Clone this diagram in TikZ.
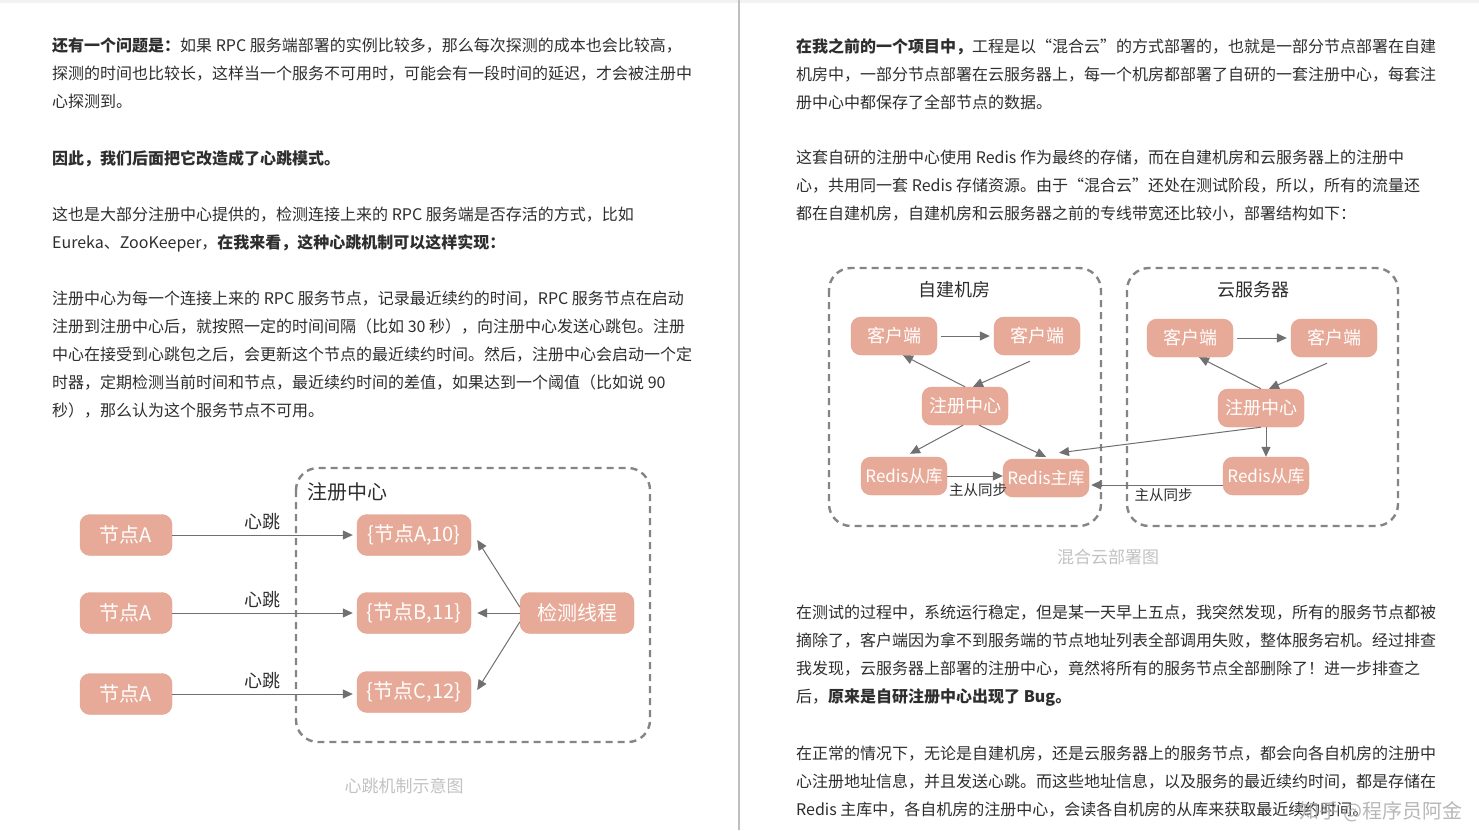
\documentclass[tikz,border=0pt]{standalone}
\usepackage{fontspec}
\setmainfont{Noto Sans CJK SC}
\usetikzlibrary{arrows.meta}

\definecolor{nodefill}{HTML}{E8AA98}
\definecolor{nodeedge}{HTML}{E2A08D}
\definecolor{linkgray}{HTML}{707070}
\definecolor{dashgray}{HTML}{858585}
\definecolor{bodytext}{HTML}{2E2E2E}
\definecolor{captiongray}{HTML}{C2C2C2}

\tikzset{
  para/.style={anchor=north west, align=left, inner sep=0pt, text=bodytext,
    font=\fontsize{16}{28}\selectfont},
  box/.style={rectangle, rounded corners=10pt, fill=nodefill, draw=nodeedge,
    text=white, minimum width=92pt, minimum height=41pt, inner sep=0pt,
    font=\fontsize{20}{20}\selectfont},
  smallbox/.style={box, minimum width=86pt, minimum height=38pt,
    font=\fontsize{18}{18}\selectfont},
  link/.style={draw=linkgray, line width=1pt,
    -{Triangle[length=10pt,width=9pt]}},
  group/.style={draw=dashgray, line width=2.4pt, dash pattern=on 7pt off 5pt,
    rounded corners=22pt},
  tag/.style={text=bodytext, inner sep=1pt, font=\fontsize{18}{18}\selectfont},
  synctag/.style={tag, font=\fontsize{14.5}{14.5}\selectfont},
  caption/.style={text=captiongray, font=\fontsize{17}{17}\selectfont},
}

\begin{document}
\begin{tikzpicture}[x=1pt,y=-1pt]
\useasboundingbox (0,0) rectangle (1479,830);
\fill[white] (0,0) rectangle (1479,830);
\fill[black!5] (0,0) rectangle (1479,3);
\draw[black!25, line width=1.5pt] (739,0) -- (739,830);

% left column
\node[para] (p1) at (52,38) {\textbf{还有一个问题是：}如果 RPC 服务端部署的实例比较多，那么每次探测的成本也会比较高，\\
探测的时间也比较长，这样当一个服务不可用时，可能会有一段时间的延迟，才会被注册中\\
心探测到。};
\node[para] (p2) at (52,150) {\textbf{因此，我们后面把它改造成了心跳模式。}};
\node[para] (p3) at (52,207) {这也是大部分注册中心提供的，检测连接上来的 RPC 服务端是否存活的方式，比如\\
Eureka、ZooKeeper，\textbf{在我来看，这种心跳机制可以这样实现：}};
\node[para] (p4) at (52,291) {注册中心为每一个连接上来的 RPC 服务节点，记录最近续约的时间，RPC 服务节点在启动\\
注册到注册中心后，就按照一定的时间间隔（比如 30 秒），向注册中心发送心跳包。注册\\
中心在接受到心跳包之后，会更新这个节点的最近续约时间。然后，注册中心会启动一个定\\
时器，定期检测当前时间和节点，最近续约时间的差值，如果达到一个阈值（比如说 90\\
秒），那么认为这个服务节点不可用。};

% heartbeat diagram
\draw[group] (296,468) rectangle (650,742);
\node[tag, font=\fontsize{20}{20}\selectfont] (regtitle) at (347,492) {注册中心};
\node[box] (nA) at (126,535) {节点A};
\node[box] (nB) at (126,613) {节点A};
\node[box] (nC) at (126,694) {节点A};
\node[box, minimum width=114pt] (rA) at (414,535) {\{节点A,10\}};
\node[box, minimum width=114pt] (rB) at (414,613) {\{节点B,11\}};
\node[box, minimum width=114pt] (rC) at (414,692) {\{节点C,12\}};
\node[box, minimum width=114pt] (check) at (577,613) {检测线程};
\draw[link] (nA) -- node[tag, above=4pt] {心跳} ([xshift=-4pt]rA.west);
\draw[link] (nB) -- node[tag, above=4pt] {心跳} ([xshift=-4pt]rB.west);
\draw[link] (nC.east) -- node[tag, above=4pt] {心跳} ([xshift=-4pt]rC.west |- nC.east);
\draw[link] ([yshift=6pt]check.west) -- ([xshift=6pt,yshift=-5pt]rA.east);
\draw[link] (check.west) -- ([xshift=6pt]rB.east);
\draw[link] ([yshift=-9pt]check.west) -- ([xshift=6pt,yshift=2pt]rC.east);
\node[caption] (cap1) at (404,786) {心跳机制示意图};

% right column
\node[para] (p5) at (796,38) {\textbf{在我之前的一个项目中，}工程是以“混合云”的方式部署的，也就是一部分节点部署在自建\\
机房中，一部分节点部署在云服务器上，每一个机房都部署了自研的一套注册中心，每套注\\
册中心中都保存了全部节点的数据。};
\node[para] (p6) at (796,150) {这套自研的注册中心使用 Redis 作为最终的存储，而在自建机房和云服务器上的注册中\\
心，共用同一套 Redis 存储资源。由于“混合云”还处在测试阶段，所以，所有的流量还\\
都在自建机房，自建机房和云服务器之前的专线带宽还比较小，部署结构如下：};

% hybrid cloud diagram
\draw[group] (829,268) rectangle (1101,526);
\draw[group] (1127,268) rectangle (1398,526);
\node[tag] (idc) at (954,290) {自建机房};
\node[tag] (cloud) at (1253,290) {云服务器};
\node[smallbox] (cL1) at (894,336) {客户端};
\node[smallbox] (cL2) at (1037,336) {客户端};
\node[smallbox] (regL) at (965,406) {注册中心};
\node[smallbox, font=\fontsize{17}{17}\selectfont] (slvL) at (904,476) {Redis从库};
\node[smallbox, font=\fontsize{17}{17}\selectfont] (mst) at (1046,478) {Redis主库};
\node[smallbox] (cR1) at (1190,338) {客户端};
\node[smallbox] (cR2) at (1334,338) {客户端};
\node[smallbox] (regR) at (1261,408) {注册中心};
\node[smallbox, font=\fontsize{17}{17}\selectfont] (slvR) at (1266,476) {Redis从库};
\draw[link] ([xshift=4pt]cL1.east) -- ([xshift=-4pt]cL2.west);
\draw[link] (regL.north) -- ([xshift=9pt]cL1.south);
\draw[link] ([xshift=-7pt,yshift=-6pt]cL2.south) -- ([xshift=8pt]regL.north);
\draw[link] ([xshift=-2pt]regL.south) -- ([xshift=6pt,yshift=3pt]slvL.north);
\draw[link] ([xshift=14pt]regL.south) -- ([yshift=2pt]mst.north);
\draw[link] (slvL.east) -- node[synctag, below=6pt, xshift=3pt] {主从同步} (slvL.east -| mst.west);
\draw[link] ([xshift=4pt]cR1.east) -- ([xshift=-4pt]cR2.west);
\draw[link] (regR.north) -- ([xshift=9pt]cR1.south);
\draw[link] ([xshift=-7pt,yshift=-6pt]cR2.south) -- ([xshift=8pt]regR.north);
\draw[link] (regR.south) -- ([xshift=13pt,yshift=6pt]mst.north);
\draw[link] ([xshift=5pt]regR.south) -- (slvR.north);
\draw[link] ([yshift=-9pt]slvR.west) -- node[synctag, below=2pt, pos=0.45] {主从同步} ([xshift=2pt,yshift=-9pt]mst.east |- slvR.west);
\node[caption] (cap2) at (1108,557) {混合云部署图};

\node[para] (p7) at (796,605) {在测试的过程中，系统运行稳定，但是某一天早上五点，我突然发现，所有的服务节点都被\\
摘除了，客户端因为拿不到服务端的节点地址列表全部调用失败，整体服务宕机。经过排查\\
我发现，云服务器上部署的注册中心，竟然将所有的服务节点全部删除了！进一步排查之\\
后，\textbf{原来是自研注册中心出现了 Bug。}};
\node[para] (p8) at (796,746) {在正常的情况下，无论是自建机房，还是云服务器上的服务节点，都会向各自机房的注册中\\
心注册地址信息，并且发送心跳。而这些地址信息，以及服务的最近续约时间，都是存储在\\
Redis 主库中，各自机房的注册中心，会读各自机房的从库来获取最近续约时间。};
\node[anchor=east, text=black!35, opacity=0.8, font=\fontsize{20}{20}\selectfont] (mark) at (1466,812) {知乎 @程序员阿金};
\end{tikzpicture}
\end{document}
